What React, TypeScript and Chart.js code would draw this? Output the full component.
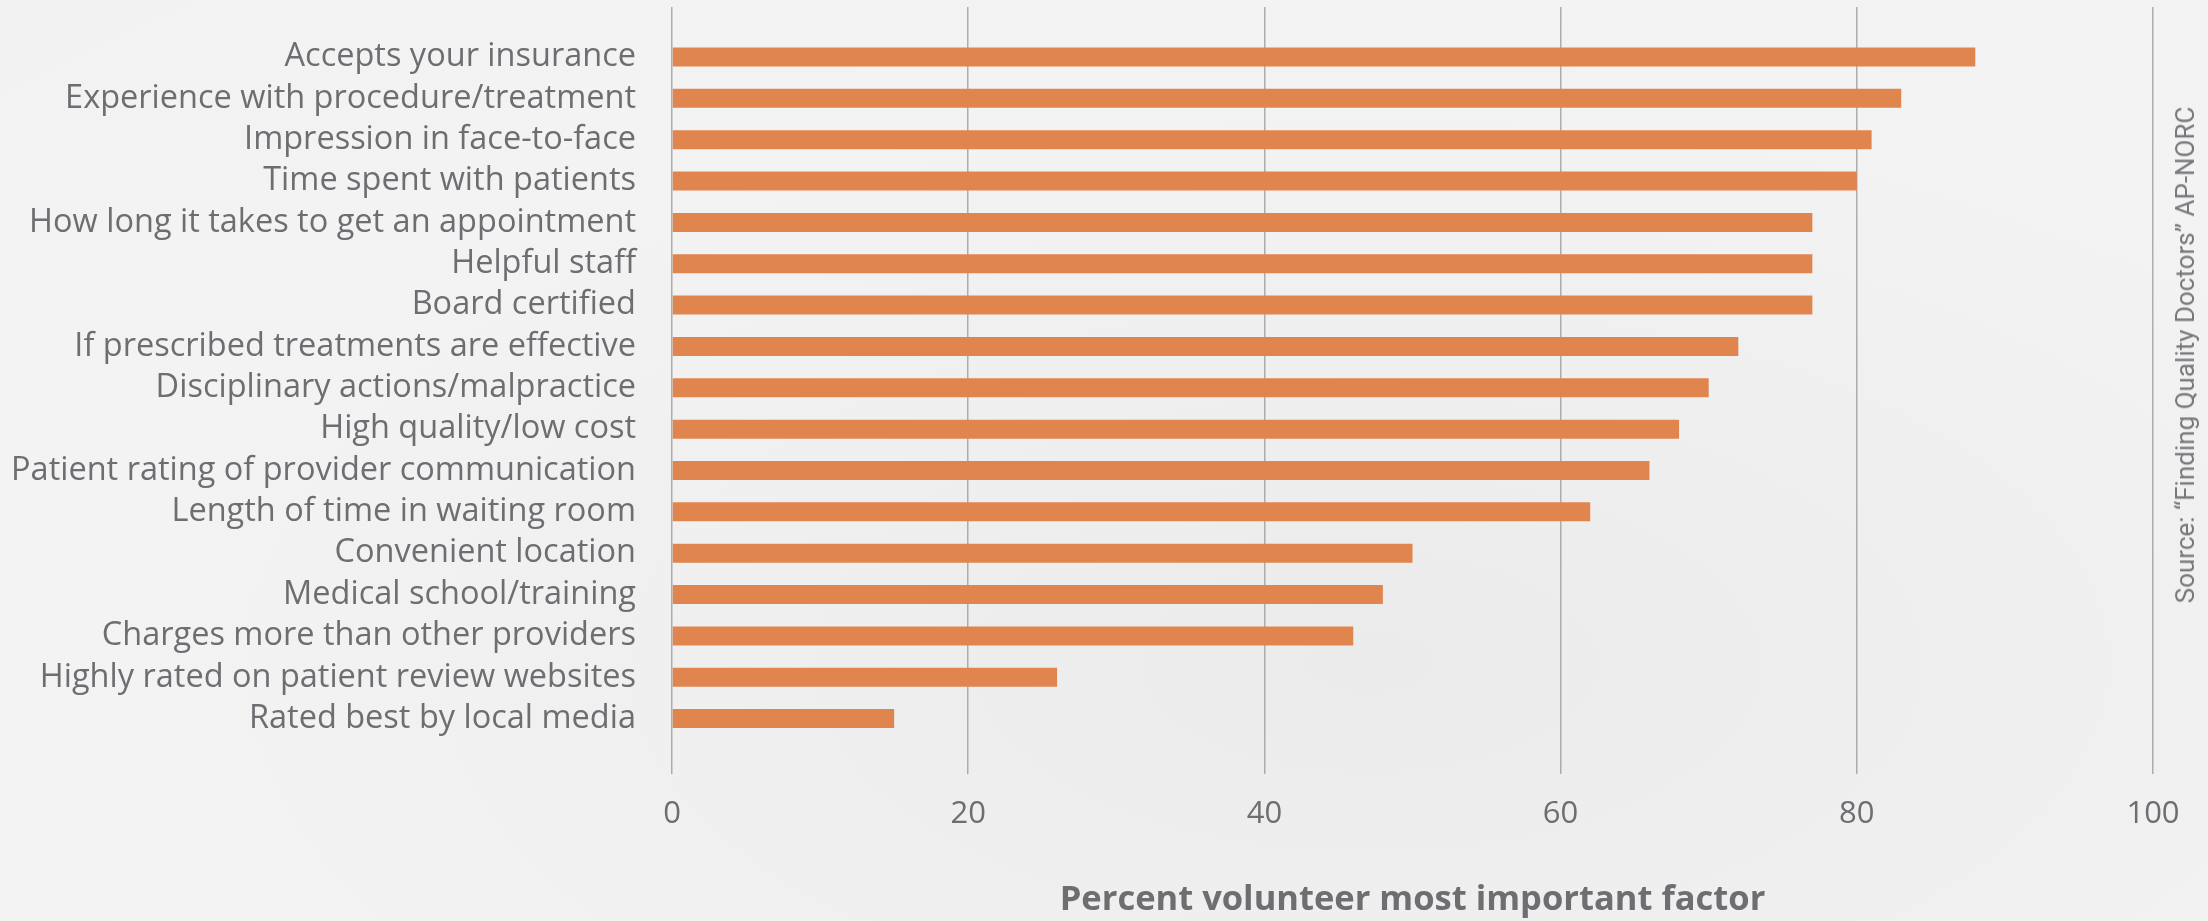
import React, { useEffect, useRef } from "react";
import { Chart, registerables } from "chart.js";

Chart.register(...registerables);

const categories = [
  "Accepts your insurance",
  "Experience with procedure/treatment",
  "Impression in face-to-face",
  "Time spent with patients",
  "How long it takes to get an appointment",
  "Helpful staff",
  "Board certified",
  "If prescribed treatments are effective",
  "Disciplinary actions/malpractice",
  "High quality/low cost",
  "Patient rating of provider communication",
  "Length of time in waiting room",
  "Convenient location",
  "Medical school/training",
  "Charges more than other providers",
  "Highly rated on patient review websites",
  "Rated best by local media",
];

const values = [88, 83, 81, 80, 77, 77, 77, 72, 70, 68, 66, 62, 50, 48, 46, 26, 15];

const xTickValues = [0, 20, 40, 60, 80, 100];

const xAxisTitle = "Percent volunteer most important factor";
const sourceNote = "Source: \u201cFinding Quality Doctors\u201d AP-NORC";

const TEXT = "#6d6e71";

export default function App() {
  const ref = useRef<HTMLCanvasElement | null>(null);

  useEffect(() => {
    document.body.style.margin = "0";
    const canvas = ref.current;
    if (!canvas) return;
    const chart = new Chart(canvas, {
      type: "bar",
      data: {
        datasets: [
          {
            data: values.map((v, i) => ({ x: v, y: i })),
            backgroundColor: "#e1854f",
            borderWidth: 0,
            categoryPercentage: 1,
            barPercentage: 0.46,
          },
        ],
      },
      options: {
        animation: false,
        responsive: true,
        maintainAspectRatio: false,
        indexAxis: "y",
        layout: { padding: { top: 7, right: 55, left: 0, bottom: 0 } },
        plugins: {
          legend: { display: false },
          tooltip: { enabled: false },
          title: { display: false },
        },
        scales: {
          y: {
            type: "linear",
            reverse: true,
            offset: false,
            min: -1.209,
            max: 17.34,
            afterBuildTicks: (scale: any) => {
              scale.ticks = categories.map((_, i) => ({ value: i }));
            },
            afterFit: (scale: any) => {
              scale.width = 672;
              scale.paddingTop = 0;
              scale.paddingBottom = 0;
            },
            ticks: {
              autoSkip: false,
              padding: 28,
              color: TEXT,
              font: { family: "Open Sans", size: 32.5 },
              callback: (v: any) => categories[v as number] ?? "",
            },
            grid: { display: false, offset: false },
            border: { display: false },
          },
          x: {
            type: "linear",
            min: 0,
            max: 100,
            afterBuildTicks: (scale: any) => {
              scale.ticks = xTickValues.map((v) => ({ value: v }));
            },
            afterFit: (scale: any) => {
              scale.height = 147;
              scale.paddingLeft = 0;
              scale.paddingRight = 0;
            },
            ticks: {
              padding: 22,
              color: TEXT,
              font: { family: "Open Sans", size: 31 },
            },
            grid: { color: "#acacac", lineWidth: 1.5, drawTicks: false },
            border: { display: false },
            title: {
              display: true,
              text: xAxisTitle,
              color: TEXT,
              font: { family: "Open Sans", size: 34.5, weight: "bold" },
              padding: { top: 40, bottom: 0 },
            },
          },
        },
      },
    });
    return () => chart.destroy();
  }, []);

  return (
    <div
      style={{
        position: "relative",
        width: 2208,
        height: 921,
        overflow: "hidden",
        background:
          "radial-gradient(ellipse at 62% 72%, #ebebeb 0%, #efefef 30%, #f3f3f3 65%, #f2f2f2 100%)",
      }}
    >
      <canvas ref={ref} style={{ display: "block" }} />
      <div
        style={{
          position: "absolute",
          left: 2185,
          top: 355,
          transform: "translate(-50%, -50%) rotate(-90deg)",
          whiteSpace: "nowrap",
          fontFamily: "Roboto",
          fontSize: 26,
          lineHeight: "30px",
          color: "#77787b",
        }}
      >
        {sourceNote}
      </div>
    </div>
  );
}
